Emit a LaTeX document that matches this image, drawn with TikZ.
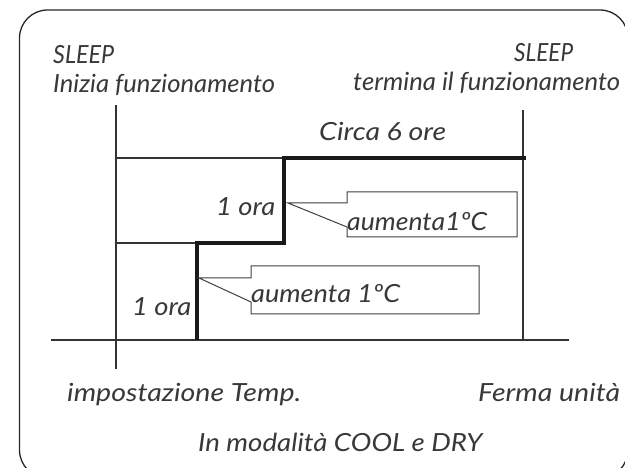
\documentclass[tikz,border=0pt]{standalone}
\usepackage{fontspec}
\usepackage{graphicx}
\setmainfont{Lato}
\newcommand\fitw[2]{\resizebox{#1pt}{\height}{#2}}
\tikzset{
  lbl/.style={anchor=base west,inner sep=0pt,font=\fontsize{25}{28}\selectfont\itshape,text=black!78},
  axisline/.style={draw=black!80,line width=1.1pt},
  stepline/.style={draw=black!90,line width=3.4pt,line join=miter},
  callout/.style={draw=black!75,line width=1pt,fill=white}}
\begin{document}
\begin{tikzpicture}[x=1pt,y=-1pt]
\useasboundingbox (0,0) rectangle (625,468);
\begin{scope}
\clip (0,0) rectangle (625,468);
\draw[line width=1.3pt,draw=black!85,rounded corners=28pt] (19.5,10) rectangle (628,478);
\end{scope}
% axes
\coordinate (lt) at (116,105);
\coordinate (lb) at (116,369);
\coordinate (rt) at (523,110);
\coordinate (rb) at (523,340);
\coordinate (bl) at (51,340);
\coordinate (br) at (569,340);
\coordinate (t1) at (116,158);
\coordinate (t2) at (284,158);
\coordinate (t3) at (526,158);
\coordinate (m1) at (116,243);
\coordinate (m2) at (197,243);
\coordinate (m3) at (284,243);
\coordinate (s0) at (197,340);
\draw[axisline] (lt) -- (lb);
\draw[axisline] (rt) -- (rb);
\draw[axisline] (bl) -- (br);
\draw[axisline] (t1) -- (t2);
\draw[axisline] (m1) -- (m2);
\draw[stepline] (s0) -- (m2) -- (m3) -- (t2) -- (t3);
% callouts
\coordinate (p1) at (288,203);
\coordinate (p2) at (199,278);
\draw[callout] (p1) -- (347,203) -- (347,192) -- (517,192) -- (517,237) -- (347,237) -- (347,227) -- cycle;
\draw[callout] (p2) -- (251,278) -- (251,266) -- (479,266) -- (479,314) -- (251,314) -- (251,302) -- cycle;
% labels
\node[lbl] (sl1) at (53,64) {\fitw{61}{SLEEP}};
\node[lbl] (iz) at (53,93) {\fitw{222}{Inizia funzionamento}};
\node[lbl] (sl2) at (514,62) {\fitw{59}{SLEEP}};
\node[lbl] (te) at (353,91) {\fitw{267}{termina il funzionamento}};
\node[lbl] (c6) at (319,141) {\fitw{127}{Circa 6 ore}};
\node[lbl] (o1) at (216,216) {\fitw{59}{1 ora}};
\node[lbl] (a1) at (347,231) {\fitw{140}{aumenta1ºC}};
\node[lbl] (a2) at (251,303) {\fitw{149}{aumenta 1ºC}};
\node[lbl] (o2) at (132,316) {\fitw{59}{1 ora}};
\node[lbl] (im) at (67,402) {\fitw{234}{impostazione Temp.}};
\node[lbl] (fe) at (478,402) {\fitw{142}{Ferma unità}};
\node[lbl] (mo) at (198,452) {\fitw{284}{In modalità COOL e DRY}};
\end{tikzpicture}
\end{document}
